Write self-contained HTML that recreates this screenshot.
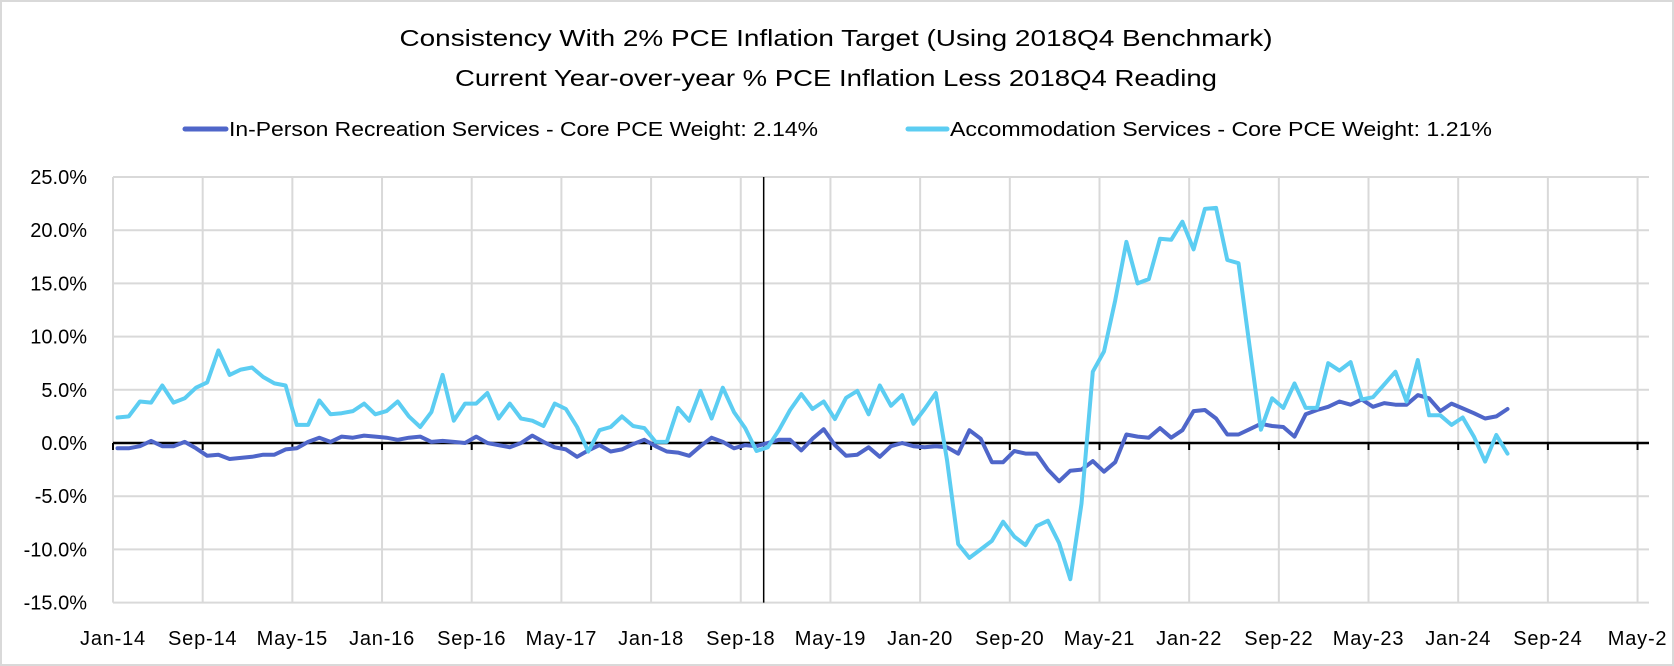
<!DOCTYPE html>
<html><head><meta charset="utf-8"><style>
html,body{margin:0;padding:0;background:#fff;}
svg{display:block;font-family:"Liberation Sans",sans-serif;}
</style></head><body>
<svg id="chart" width="1674" height="666" viewBox="0 0 1674 666">
<rect x="1" y="1" width="1672" height="664" fill="#fff" stroke="#d9d9d9" stroke-width="2"/>
<text x="836" y="46" text-anchor="middle" font-size="23" textLength="873" lengthAdjust="spacingAndGlyphs">Consistency With 2% PCE Inflation Target (Using 2018Q4 Benchmark)</text>
<text x="836" y="86" text-anchor="middle" font-size="23" textLength="762" lengthAdjust="spacingAndGlyphs">Current Year-over-year % PCE Inflation Less 2018Q4 Reading</text>
<g>
<g>
<line x1="185" y1="129" x2="226" y2="129" stroke="#4f66c9" stroke-width="5" stroke-linecap="round"/>
<text x="229" y="136" font-size="20" textLength="589" lengthAdjust="spacingAndGlyphs">In-Person Recreation Services - Core PCE Weight: 2.14%</text>
</g>
<g>
<line x1="908" y1="129" x2="947" y2="129" stroke="#5ccdf2" stroke-width="5" stroke-linecap="round"/>
<text x="950" y="136" font-size="20" textLength="542" lengthAdjust="spacingAndGlyphs">Accommodation Services - Core PCE Weight: 1.21%</text>
</g>
</g>
<g id="grid"></g>
<g id="yaxis"></g>
<g id="xaxis"></g>
<g id="series"></g>
</svg>
<script>
const yTicks = [25,20,15,10,5,0,-5,-10,-15];
const xTickLabels = ["Jan-14","Sep-14","May-15","Jan-16","Sep-16","May-17","Jan-18","Sep-18","May-19","Jan-20","Sep-20","May-21","Jan-22","Sep-22","May-23","Jan-24","Sep-24","May-2"];
const benchmarkMonth = 58;
const recreation = [-0.5,-0.5,-0.3,0.2,-0.3,-0.3,0.1,-0.5,-1.2,-1.1,
-1.5,-1.4,-1.3,-1.1,-1.1,-0.6,-0.5,0.1,0.5,0.1,
0.6,0.5,0.7,0.6,0.5,0.3,0.5,0.6,0.1,0.2,
0.1,0,0.6,0,-0.2,-0.4,0,0.7,0.1,-0.4,
-0.6,-1.3,-0.7,-0.2,-0.8,-0.6,-0.1,0.3,-0.3,-0.8,
-0.9,-1.2,-0.3,0.5,0.1,-0.5,-0.2,-0.3,0,0.3,
0.3,-0.7,0.4,1.3,-0.2,-1.2,-1.1,-0.4,-1.3,-0.3,
0,-0.3,-0.4,-0.3,-0.4,-1.0,1.2,0.4,-1.8,-1.8,
-0.75,-1.0,-1.0,-2.5,-3.6,-2.6,-2.5,-1.7,-2.7,-1.8,
0.8,0.6,0.5,1.4,0.5,1.2,3.0,3.1,2.3,0.8,
0.8,1.3,1.8,1.6,1.5,0.6,2.7,3.1,3.4,3.9,
3.6,4.1,3.4,3.75,3.6,3.6,4.5,4.2,3.0,3.7,
3.25,2.8,2.3,2.5,3.2];
const accommodation = [2.4,2.5,3.9,3.8,5.4,3.8,4.2,5.2,5.7,8.7,
6.4,6.9,7.1,6.2,5.6,5.4,1.7,1.7,4.0,2.7,
2.8,3.0,3.7,2.7,3.0,3.9,2.5,1.5,2.9,6.4,
2.1,3.7,3.7,4.7,2.3,3.7,2.3,2.1,1.6,3.7,
3.2,1.5,-0.8,1.2,1.5,2.5,1.6,1.4,0.1,0.1,
3.3,2.1,4.9,2.3,5.2,2.9,1.4,-0.75,-0.4,1.2,
3.1,4.6,3.2,3.9,2.25,4.25,4.9,2.7,5.4,3.5,
4.5,1.8,3.2,4.7,-1.6,-9.5,-10.8,-10.0,-9.2,-7.4,
-8.8,-9.6,-7.8,-7.3,-9.4,-12.8,-5.7,6.7,8.6,13.4,
18.9,15.0,15.4,19.2,19.1,20.8,18.2,22.0,22.1,17.2,
16.9,9.0,1.25,4.2,3.3,5.6,3.3,3.3,7.5,6.8,
7.6,4.1,4.3,5.5,6.7,3.9,7.8,2.6,2.6,1.7,
2.4,0.6,-1.75,0.75,-1.0];

const NS="http://www.w3.org/2000/svg";
const X0=113, MW=11.21, XR=1649, Y0=443, PP=10.64;
const xs = m => X0 + m*MW;
const xp = i => X0 + (i+0.4)*MW;
const ys = v => Y0 - v*PP;
function mk(tag, parent){const e=document.createElementNS(NS,tag);parent.appendChild(e);return e;}
const grid=document.getElementById('grid'), ya=document.getElementById('yaxis'), xa=document.getElementById('xaxis'), se=document.getElementById('series');
const yTop=ys(yTicks[0]), yBot=ys(yTicks[yTicks.length-1]);
yTicks.forEach(t=>{
  const l=mk('line',grid);
  
  
  l.setAttribute('x1',X0);l.setAttribute('x2',XR);l.setAttribute('y1',ys(t));l.setAttribute('y2',ys(t));
  l.setAttribute('stroke','#d9d9d9');l.setAttribute('stroke-width','2');
  const tx=mk('text',ya);
  
  
  tx.setAttribute('x',87);tx.setAttribute('y',ys(t)+7);tx.setAttribute('text-anchor','end');tx.setAttribute('font-size','20');
  tx.textContent=t.toFixed(1)+'%';
});
xTickLabels.forEach((lab,k)=>{
  const x=xs(k*8);
  const l=mk('line',grid);
  
  
  l.setAttribute('x1',x);l.setAttribute('x2',x);l.setAttribute('y1',yTop);l.setAttribute('y2',yBot);
  l.setAttribute('stroke','#d9d9d9');l.setAttribute('stroke-width','2');
  const tk=mk('line',xa);
  
  
  tk.setAttribute('x1',x);tk.setAttribute('x2',x);tk.setAttribute('y1',Y0);tk.setAttribute('y2',Y0+7);
  tk.setAttribute('stroke','#000');tk.setAttribute('stroke-width','2');
  const tx=mk('text',xa);
  
  
  tx.setAttribute('x',x);tx.setAttribute('y',645);tx.setAttribute('text-anchor','middle');tx.setAttribute('font-size','20');tx.setAttribute('letter-spacing','0.8');
  tx.textContent=lab;
});
const zl=mk('line',xa);


zl.setAttribute('x1',X0);zl.setAttribute('x2',XR);zl.setAttribute('y1',Y0);zl.setAttribute('y2',Y0);zl.setAttribute('stroke','#000');zl.setAttribute('stroke-width','2.5');
const bl=mk('line',xa);


bl.setAttribute('x1',xs(benchmarkMonth)+0.5);bl.setAttribute('x2',xs(benchmarkMonth)+0.5);bl.setAttribute('y1',yTop);bl.setAttribute('y2',yBot);bl.setAttribute('stroke','#000');bl.setAttribute('stroke-width','1.5');
function drawLine(vals,color,name){
  const p=mk('polyline',se);
  
  
  p.setAttribute('points',vals.map((v,i)=>xp(i).toFixed(1)+','+ys(v).toFixed(1)).join(' '));
  p.setAttribute('fill','none');p.setAttribute('stroke',color);p.setAttribute('stroke-width','4');p.setAttribute('stroke-linejoin','round');p.setAttribute('stroke-linecap','round');
}
drawLine(recreation,'#4f66c9','recreation-line');
drawLine(accommodation,'#5ccdf2','accommodation-line');
</script>
</body></html>
